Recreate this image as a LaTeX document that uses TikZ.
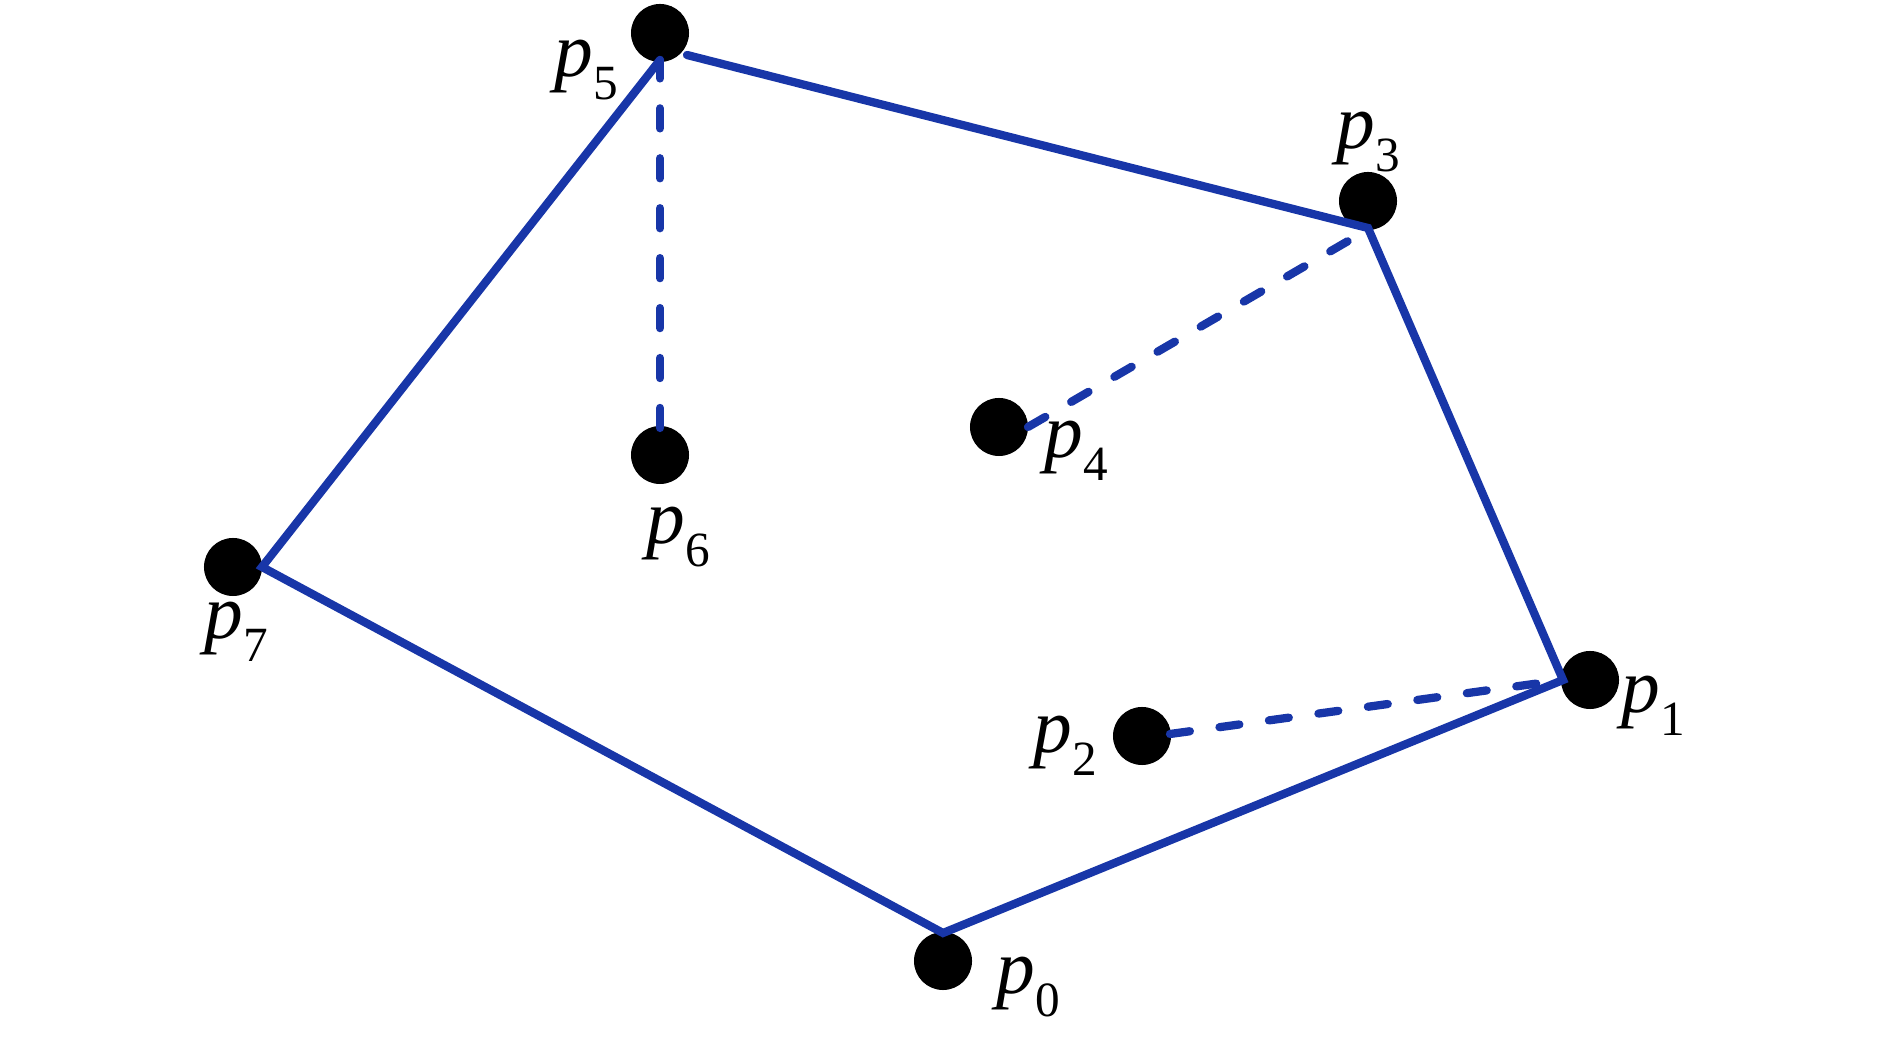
\documentclass[tikz,border=0pt]{standalone}
\usepackage{fontspec}
\setmainfont{Liberation Serif}
\definecolor{hullblue}{RGB}{24,54,168}
\newcommand\plab[1]{{\fontsize{22pt}{23pt}\selectfont\itshape p}\raisebox{-0.22cm}{\fontsize{14pt}{15pt}\selectfont #1}}
\begin{document}
\begin{tikzpicture}[x=0.01cm,y=-0.01cm,
  dot/.style={circle,fill=black,inner sep=0pt,minimum size=0.58cm},
  lab/.style={anchor=base west,inner sep=0pt},
  hull/.style={draw=hullblue,line width=2.35pt,line cap=round,line join=miter},
  cand/.style={draw=hullblue,line width=2.35pt,line cap=round,dash pattern=on 5.7pt off 8.5pt}]
\useasboundingbox (0,0) rectangle (1890,1037);
% points
\node[dot] (p0) at (943,961) {};
\node[dot] (p1) at (1590,680) {};
\node[dot] (p2) at (1142,736) {};
\node[dot] (p3) at (1368,201) {};
\node[dot] (p4) at (999,427) {};
\node[dot] (p5) at (660,33) {};
\node[dot] (p6) at (660,455) {};
\node[dot] (p7) at (233,567) {};
% hull vertices
\coordinate (v0) at (943,933);
\coordinate (v1) at (1563,680);
\coordinate (v3) at (1368,228);
\coordinate (v5) at (660,60);
\coordinate (v7) at (262,567);
\coordinate (e5) at (687,55);
\coordinate (e3) at (1355,237);
\coordinate (e1) at (1548,682);
\coordinate (s2) at (1170,734);
\coordinate (s4) at (1028,427);
\coordinate (s6) at (660,428);
% hull
\path[hull] (e5) -- (v3) -- (v1) -- (v0) -- (v7) -- (v5);
% dashed
\path[cand] (s6) -- (v5);
\path[cand] (s4) -- (e3);
\path[cand] (s2) -- (e1);
% labels
\node[lab] (l0) at (996,994) {\plab{0}};
\node[lab] (l1) at (1621,713) {\plab{1}};
\node[lab] (l2) at (1033,753) {\plab{2}};
\node[lab] (l3) at (1336,149) {\plab{3}};
\node[lab] (l4) at (1044,458) {\plab{4}};
\node[lab] (l5) at (554,77) {\plab{5}};
\node[lab] (l6) at (646,544) {\plab{6}};
\node[lab] (l7) at (204,639) {\plab{7}};
\end{tikzpicture}
\end{document}
